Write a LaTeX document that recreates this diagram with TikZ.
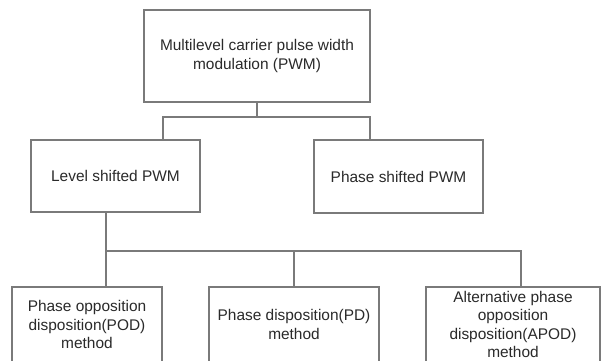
\documentclass[tikz,border=0pt]{standalone}
\usepackage{fontspec}
\setmainfont{Liberation Sans}
\definecolor{linegrey}{HTML}{7A7A7A}
\definecolor{txtgrey}{HTML}{2A2A2A}
\begin{document}
\begin{tikzpicture}[x=1bp,y=-1bp,
  box/.style={draw=linegrey,line width=1.1bp,fill=white,inner sep=0pt,align=center,
    text=txtgrey,font=\fontsize{15.5}{18.5}\selectfont},
  conn/.style={draw=linegrey,line width=1.1bp}]
\useasboundingbox (0,0) rectangle (603,360);
\clip (0,0) rectangle (603,360);
\node[box,minimum width=226bp,minimum height=92bp] (top) at (257,56) {Multilevel carrier pulse width\\modulation (PWM)};
\node[box,minimum width=169bp,minimum height=72bp] (level) at (115.5,176) {Level shifted PWM};
\node[box,minimum width=169bp,minimum height=73bp] (phase) at (398.5,176.5) {Phase shifted PWM};
\node[box,minimum width=150bp,minimum height=75bp] (pod) at (87,324.5) {Phase opposition\\disposition(POD)\\method};
\node[box,minimum width=170bp,minimum height=75bp] (pd) at (294,324.5) {Phase disposition(PD)\\method};
\node[box,minimum width=174bp,minimum height=75bp] (apod) at (513,324.5) {Alternative phase\\opposition\\disposition(APOD)\\method};
\coordinate (a1) at (163,117);
\coordinate (a2) at (370,117);
\coordinate (b1) at (106,251);
\coordinate (b2) at (294,251);
\coordinate (b3) at (521,251);
\draw[conn] (top.south) -- (top.south |- a1);
\draw[conn] (a1 |- level.north) -- (a1) -- (a2) -- (a2 |- phase.north);
\draw[conn] (b1 |- level.south) -- (b1 |- pod.north);
\draw[conn] (b1) -- (b3) -- (b3 |- apod.north);
\draw[conn] (b2) -- (b2 |- pd.north);
\end{tikzpicture}
\end{document}
